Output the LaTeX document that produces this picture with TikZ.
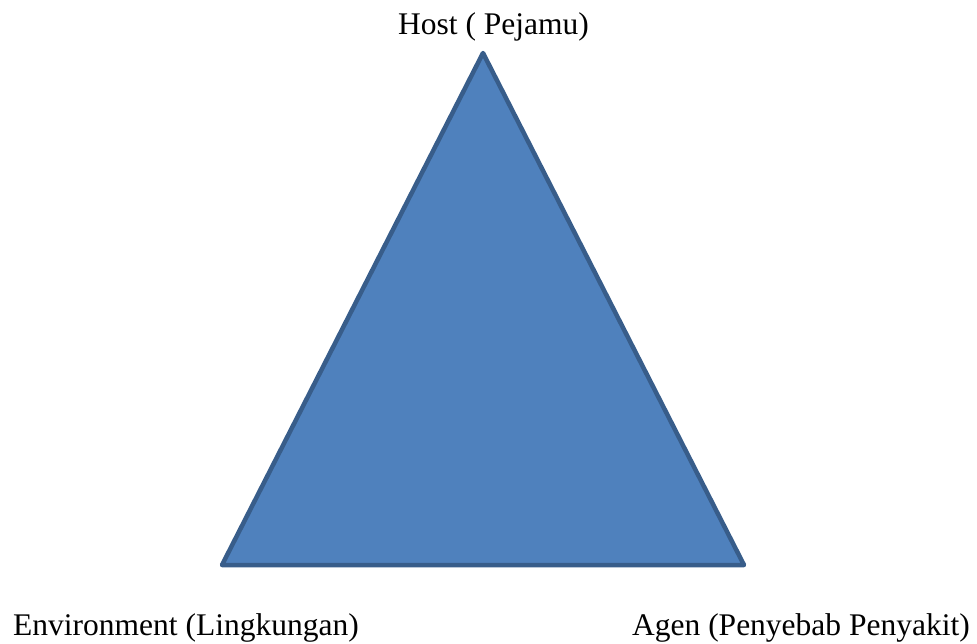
\documentclass[tikz,border=0pt]{standalone}
\usepackage{fontspec}
\setmainfont{Liberation Serif}
\definecolor{trifill}{HTML}{4F81BD}
\definecolor{triline}{HTML}{385D8A}
\begin{document}
\begin{tikzpicture}[x=1pt,y=-1pt,
  lbl/.style={inner sep=0pt,font=\fontsize{31.5}{36}\selectfont},
  tri/.style={fill=trifill,draw=triline,line width=4.5pt,line join=round}]
\useasboundingbox (0,0) rectangle (977,643);
\coordinate (top) at (483,53);
\coordinate (bl) at (222,565);
\coordinate (br) at (744,565);
\draw[tri] (top) -- (br) -- (bl) -- cycle;
\node[lbl,anchor=base] (host) at (493.5,34) {Host ( Pejamu)};
\node[lbl,anchor=base west] (env) at (13,635) {Environment (Lingkungan)};
\node[lbl,anchor=base east] (agen) at (970,635) {Agen (Penyebab Penyakit)};
\end{tikzpicture}
\end{document}
